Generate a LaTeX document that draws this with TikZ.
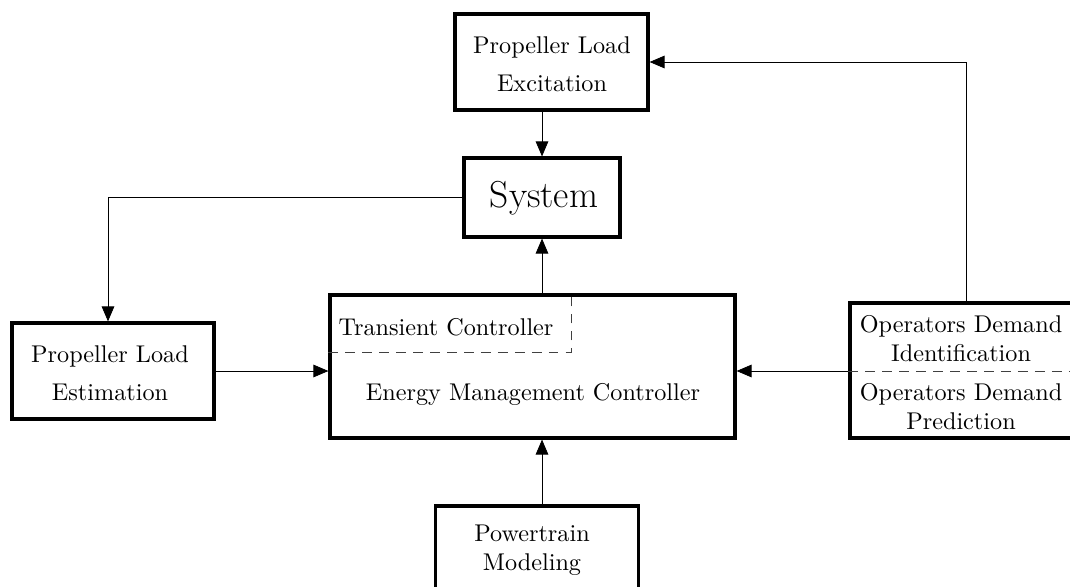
\documentclass[tikz,border=0pt]{standalone}
\usetikzlibrary{arrows.meta}
\begin{document}
\begin{tikzpicture}[x=0.413pt,y=-0.413pt,
  block/.style={draw,line width=1.3pt,inner sep=0pt},
  lbl/.style={align=center,inner sep=0pt,font=\normalsize},
  conn/.style={line width=0.35pt},
  arr/.style={conn,-{Triangle[length=6.2pt,width=5.2pt]}},
  sep/.style={line width=0.4pt,draw=black!75,dash pattern=on 4pt off 3pt}]
\useasboundingbox (0,0) rectangle (1070,587);

% boxes
\node[block,minimum width=193*0.413pt,minimum height=96*0.413pt] (exc) at (551.5,62) {};
\node[block,minimum width=156*0.413pt,minimum height=79*0.413pt] (sys) at (542,197.5) {};
\node[block,minimum width=202*0.413pt,minimum height=96*0.413pt] (est) at (113,371) {};
\node[block,minimum width=405*0.413pt,minimum height=143*0.413pt] (emc) at (532.5,366.5) {};
\node[block,minimum width=230*0.413pt,minimum height=135*0.413pt] (ops) at (965,370.5) {};
\node[block,minimum width=203*0.413pt,minimum height=110*0.413pt] (pwr) at (537,561) {};

% texts
\node[lbl] (exct) at (552,64) {Propeller Load\\[3.5pt]Excitation};
\node[lbl,font=\fontsize{15.5}{18}\selectfont] (syst) at (544,198) {System};
\node[lbl] (estt) at (110,373) {Propeller Load\\[3.5pt]Estimation};
\node[lbl] (tct) at (446,327) {Transient Controller};
\node[lbl] (emct) at (533,394) {Energy Management Controller};
\node[lbl] (idt) at (961,339) {Operators Demand\\Identification};
\node[lbl] (prt) at (961,407) {Operators Demand\\Prediction};
\node[lbl] (pwrt) at (532,550) {Powertrain\\Modeling};

% dashed separators
\coordinate (tcA) at (emc.west |- 0,352);
\coordinate (tcB) at (571,352);
\coordinate (tcC) at (571,295);
\draw[sep] (tcA) -- (tcB) -- (tcC);
\coordinate (opA) at (ops.west |- 0,371);
\coordinate (opB) at (1080,371);
\draw[sep] (opA) -- (opB);

% connectors
\draw[arr] (exc.south -| 542,0) -- (sys.north -| 542,0);
\draw[arr] (emc.north -| 542,0) -- (sys.south -| 542,0);
\draw[arr] (sys.west) -| (est.north -| 108,0);
\draw[arr] (est.east) -- (emc.west |- est.east);
\draw[arr] (ops.west |- 0,371) -- (emc.east |- 0,371);
\draw[arr] (ops.north -| 966,0) |- (exc.east |- 0,62);
\draw[arr] (pwr.north -| 542,0) -- (emc.south -| 542,0);
\end{tikzpicture}
\end{document}
